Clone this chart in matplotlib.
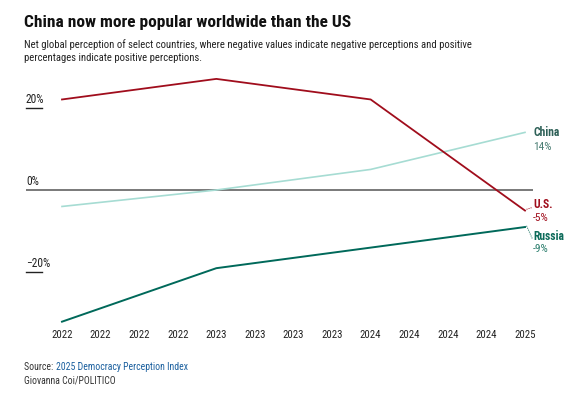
import matplotlib
matplotlib.use("Agg")
import matplotlib.pyplot as plt
import matplotlib.transforms as mtransforms
from matplotlib import font_manager

years = [2022, 2023, 2024, 2025]
us = [22, 27, 22, -5]
china = [-4, 0, 5, 14]
russia = [-32, -19, -14, -9]
tick_positions = [2022 + 0.25 * k for k in range(13)]
tick_labels = [str(int(t)) for t in tick_positions]
ytick_values = [20, 0, -20]
ytick_labels = ["20%", "0%", "\u221220%"]

avail = {f.name for f in font_manager.fontManager.ttflist}
fam = [f for f in ["Roboto Condensed", "Liberation Sans Narrow", "Liberation Sans", "DejaVu Sans"] if f in avail]
plt.rcParams['font.family'] = fam

W, H = 584, 398
fig = plt.figure(figsize=(W / 100, H / 100), dpi=100)
fig.patch.set_facecolor("white")

ax_left, ax_right, ax_top, ax_bot = 26, 533, 70, 326
ax = fig.add_axes([ax_left / W, 1 - ax_bot / H, (ax_right - ax_left) / W, (ax_bot - ax_top) / H])
ppx = 463 / 3.0  # px per year
ax.set_xlim(2022 - (62 - ax_left) / ppx, 2025 + (ax_right - 525) / ppx)
ppy = 4.115
ax.set_ylim(-(ax_bot - 190) / ppy, (190 - ax_top) / ppy)
for s in ax.spines.values():
    s.set_visible(False)
ax.set_yticks([])
ax.set_xticks(tick_positions)
ax.set_xticklabels(tick_labels, fontsize=7.8, color="#222222")
ax.tick_params(axis="x", length=0, pad=3)

us_c = "#a00d1c"
china_c = "#a6dcd3"
russia_c = "#00695a"

ax.axhline(0, color="#555555", lw=1.1, zorder=1)
ax.plot(years, china, color=china_c, lw=1.2, zorder=2)
ax.plot(years, us, color=us_c, lw=1.3, zorder=3)
ax.plot(years, russia, color=russia_c, lw=1.4, zorder=3)

blend = mtransforms.blended_transform_factory(ax.transAxes, ax.transData)
uw = 16 / (ax_right - ax_left)
for v, lab in zip(ytick_values, ytick_labels):
    ax.text(0, v + 0.5, lab, transform=blend, fontsize=8.3, color="#222222", ha="left", va="bottom")
    if v != 0:
        ax.plot([0, uw], [v, v], transform=blend, color="#222222", lw=1.0, clip_on=False)

# end labels
lx = 2025 + 8 / ppx
def endlabel(name, val, ypx_name, ypx_val, c1, c2, leader=False):
    yn = (190 - ypx_name) / ppy
    yv = (190 - ypx_val) / ppy
    ax.text(lx, yn, name, fontsize=8.4, fontweight="bold", color=c1, ha="left", va="center", clip_on=False)
    ax.text(lx, yv, f"{val}%", fontsize=8.2, color=c2, ha="left", va="center", clip_on=False)
    if leader:
        ax.plot([2025.01, lx - 0.005], [val + 0.3, yn - 0.6], color=c1, lw=0.7, ls=(0, (1, 1.2)), clip_on=False)

endlabel("China", china[-1], 132, 147, "#2f6158", "#4a7d73")
endlabel("U.S.", us[-1], 205, 218, us_c, us_c, leader=True)
endlabel("Russia", russia[-1], 236, 249, "#0d6b5a", "#2a7d6c", leader=True)

fig.text(24 / W, 1 - 22 / H, "China now more popular worldwide than the US", fontsize=12.5,
         fontweight="bold", color="#111111", ha="left", va="center")
fig.text(24 / W, 1 - 45 / H, "Net global perception of select countries, where negative values indicate negative perceptions and positive",
         fontsize=7.7, color="#222222", ha="left", va="center")
fig.text(24 / W, 1 - 58 / H, "percentages indicate positive perceptions.",
         fontsize=7.7, color="#222222", ha="left", va="center")

t = fig.text(24 / W, 1 - 367 / H, "Source: ", fontsize=7.0, color="#333333", ha="left", va="center")
fig.canvas.draw()
bb = t.get_window_extent()
fig.text(bb.x1 / W, 1 - 367 / H, "2025 Democracy Perception Index", fontsize=7.0, color="#1a5f9e", ha="left", va="center")
fig.text(24 / W, 1 - 380 / H, "Giovanna Coi/POLITICO", fontsize=7.0, color="#333333", ha="left", va="center")

fig.savefig("out.png", dpi=100, facecolor="white")
